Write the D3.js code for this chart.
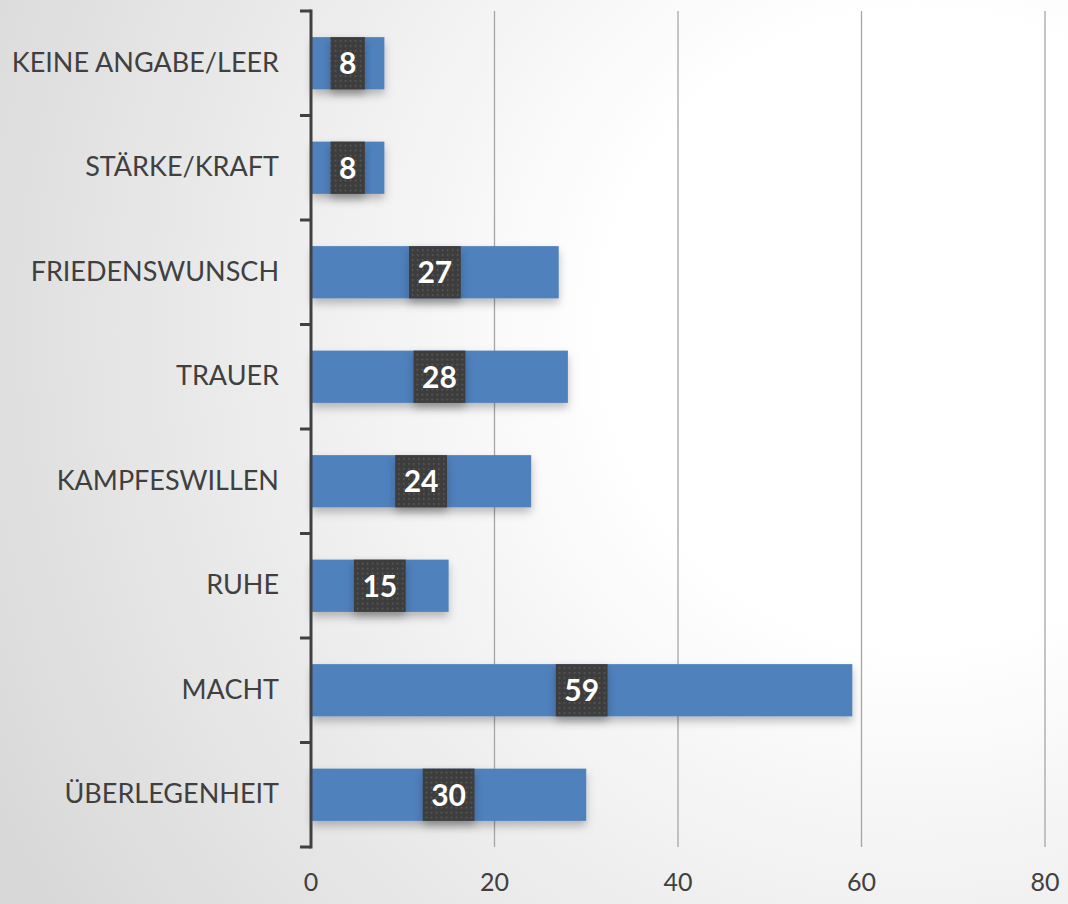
<!DOCTYPE html>
<html>
<head>
<meta charset="utf-8">
<script src="https://cdn.jsdelivr.net/npm/d3@7"></script>
<style>
  html, body { margin: 0; padding: 0; background: #fff; }
  svg { display: block; }
</style>
</head>
<body>
<svg id="chart" width="1068" height="904"></svg>
<script>
const categories = ["KEINE ANGABE/LEER", "STÄRKE/KRAFT", "FRIEDENSWUNSCH", "TRAUER",
                    "KAMPFESWILLEN", "RUHE", "MACHT", "ÜBERLEGENHEIT"];
const values = [8, 8, 27, 28, 24, 15, 59, 30];
const xTicks = [0, 20, 40, 60, 80];

const svg = d3.select("#chart");
const width = +svg.attr("width");
const height = +svg.attr("height");
const margin = {top: 11, right: 22, bottom: 57, left: 311};
const innerWidth = width - margin.left - margin.right;
const innerHeight = height - margin.top - margin.bottom;

const data = categories.map((c, i) => ({cat: c, val: values[i]}));

const defs = svg.append("defs");

// background gradient
const bg = defs.append("radialGradient")
    .attr("id", "bg")
    .attr("gradientUnits", "userSpaceOnUse")
    .attr("cx", 920).attr("cy", 330).attr("r", 1050);
bg.append("stop").attr("offset", "0").attr("stop-color", "#ffffff");
bg.append("stop").attr("offset", "0.3").attr("stop-color", "#ffffff");
bg.append("stop").attr("offset", "1").attr("stop-color", "#d8d8d8");

svg.append("rect")
    .attr("width", width).attr("height", height)
    .attr("fill", "url(#bg)");

// dotted pattern for label boxes
const pat = defs.append("pattern")
    .attr("id", "dots")
    .attr("patternUnits", "userSpaceOnUse")
    .attr("width", 5).attr("height", 5);
pat.append("rect").attr("width", 5).attr("height", 5).attr("fill", "#3d3d3d");
pat.append("rect").attr("x", 2).attr("y", 2).attr("width", 1.5).attr("height", 1.5).attr("fill", "#5e5e5e");

const shadow = defs.append("filter")
    .attr("id", "shadow")
    .attr("x", "-20%").attr("y", "-40%").attr("width", "140%").attr("height", "200%");
shadow.append("feDropShadow")
    .attr("dx", 0).attr("dy", 5).attr("stdDeviation", 4.5)
    .attr("flood-color", "#000").attr("flood-opacity", 0.25);

const chart = svg.append("g")
    .attr("transform", "translate(" + margin.left + "," + margin.top + ")");

const x = d3.scaleLinear()
    .domain([0, 80])
    .range([0, 734]);

const y = d3.scaleBand()
    .domain(categories)
    .range([0, innerHeight])
    .paddingInner(0.5)
    .paddingOuter(0.25);

// gridlines
chart.append("g")
    .selectAll("line")
    .data(xTicks.filter(d => d > 0))
    .enter()
    .append("line")
    .attr("x1", d => x(d)).attr("x2", d => x(d))
    .attr("y1", 0).attr("y2", innerHeight)
    .attr("stroke", "#a6a6a6")
    .attr("stroke-width", 1.3);

// x tick labels
chart.append("g")
    .selectAll("text")
    .data(xTicks)
    .enter()
    .append("text")
    .attr("x", d => x(d))
    .attr("y", innerHeight + 44)
    .attr("text-anchor", "middle")
    .style("font-family", "Lato, 'Open Sans', sans-serif")
    .style("font-size", "25px")
    .attr("fill", "#404040")
    .text(d => d);

// bars
chart.append("g")
    .selectAll("rect")
    .data(data)
    .enter()
    .append("rect")
    .attr("x", 1)
    .attr("y", d => y(d.cat))
    .attr("width", d => x(d.val) - 1)
    .attr("height", y.bandwidth())
    .attr("fill", "#4f81bd")
    .attr("filter", "url(#shadow)");

// y axis
const yAxis = chart.append("g")
    .call(d3.axisLeft(y).tickSize(0).tickPadding(32).tickSizeOuter(0));
yAxis.select(".domain").remove();
yAxis.selectAll("text")
    .style("font-family", "Lato, 'Open Sans', sans-serif")
    .style("font-size", "27px")
    .attr("fill", "#404040");

const bounds = [0].concat(categories.map(c => y(c) + y.step() * 0.75));
chart.append("g")
    .selectAll("line")
    .data(bounds)
    .enter()
    .append("line")
    .attr("x1", -11).attr("x2", 0)
    .attr("y1", d => d).attr("y2", d => d)
    .attr("stroke", "#404040")
    .attr("stroke-width", 3);

chart.append("line")
    .attr("x1", 0).attr("x2", 0)
    .attr("y1", -1.5).attr("y2", innerHeight + 1.5)
    .attr("stroke", "#404040")
    .attr("stroke-width", 3);

// value labels
const labels = chart.append("g")
    .selectAll("g")
    .data(data)
    .enter()
    .append("g")
    .attr("transform", d => "translate(" + (x(d.val) / 2) + "," + (y(d.cat) + y.bandwidth() / 2) + ")");

labels.append("rect")
    .attr("fill", "url(#dots)")
    .attr("filter", "url(#shadow)");

labels.append("text")
    .attr("text-anchor", "middle")
    .attr("dy", "0.36em")
    .style("font-family", "Lato, 'Open Sans', sans-serif")
    .style("font-size", "30px")
    .style("font-weight", "bold")
    .attr("fill", "#ffffff")
    .text(d => d.val);

labels.each(function() {
    const g = d3.select(this);
    const w = g.select("text").node().getComputedTextLength() + 17;
    g.select("rect")
        .attr("x", -w / 2)
        .attr("y", -y.bandwidth() / 2)
        .attr("width", w)
        .attr("height", y.bandwidth());
});
</script>
</body>
</html>
